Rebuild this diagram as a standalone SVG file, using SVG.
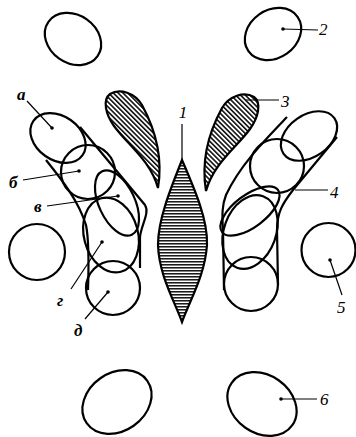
<svg xmlns="http://www.w3.org/2000/svg" width="356" height="437" viewBox="0 0 356 437">
<style>
.o{fill:none;stroke:#000;stroke-width:2.2}
.l{fill:none;stroke:#000;stroke-width:1.2}
.d{fill:#000}
.t{font-family:"Liberation Serif",serif;font-style:italic;font-size:17px;fill:#000}
.b{font-weight:bold}
</style>
<defs>
<pattern id="hd" width="3.4" height="3.4" patternUnits="userSpaceOnUse" patternTransform="rotate(-45)"><rect width="3.4" height="3.4" fill="#fff"/><line x1="0.8" y1="0" x2="0.8" y2="3.4" stroke="#000" stroke-width="1.5"/></pattern>
<pattern id="hh" width="3" height="3" patternUnits="userSpaceOnUse"><rect width="3" height="3" fill="#fff"/><line x1="0" y1="0.8" x2="3" y2="0.8" stroke="#000" stroke-width="1.4"/></pattern>
</defs>
<g id="e-top-left"><ellipse class="o" cx="73" cy="39" rx="30" ry="24" transform="rotate(35 73 39)"/></g>
<g id="e-top-right"><ellipse class="o" cx="273" cy="34" rx="30" ry="24" transform="rotate(-35 273 34)"/><circle class="d" cx="283" cy="29" r="1.8"/></g>
<g id="e-bottom-left"><ellipse class="o" cx="117" cy="402" rx="37" ry="29" transform="rotate(-35 117 402)"/></g>
<g id="e-bottom-right"><ellipse class="o" cx="262" cy="404" rx="37" ry="29" transform="rotate(35 262 404)"/><circle class="d" cx="281" cy="399" r="1.8"/></g>
<g id="c-left"><circle class="o" cx="37" cy="252" r="28"/></g>
<g id="c-right"><circle class="o" cx="328.5" cy="250" r="27"/><circle class="d" cx="330" cy="260" r="1.8"/></g>
<g id="spindle"><path class="o" fill="url(#hh)" style="fill:url(#hh)" d="M182,160 C195,190 208,220 207,245 C205,275 190,300 182,322 C174,300 159,275 158,245 C158,220 170,190 182,160 Z"/></g>
<g id="hatch-left"><path class="o" style="fill:url(#hd)" d="M158,188 C161,170 161,140 142,105 C135,93 120,88 110,94 C102,100 106,115 114,126 C128,145 150,160 158,188 Z"/></g>
<g id="hatch-right"><path class="o" style="fill:url(#hd)" d="M206,191 C203,173 203,143 222,108 C229,96 244,91 254,97 C262,103 258,118 250,129 C236,148 214,163 206,191 Z"/></g>
<g id="group-left">
<path class="o" d="M80,127 L145,205 C150,213 141,225 140,237 L140,268"/>
<path class="o" d="M46,160 C62,180 78,200 86,225 C89,240 89,260 88,290"/>
<ellipse class="o" cx="58" cy="138" rx="30" ry="22" transform="rotate(35 58 138)"/>
<circle class="o" cx="88" cy="172" r="27"/>
<ellipse class="o" cx="117" cy="203" rx="35" ry="18" transform="rotate(65 117 203)"/>
<ellipse class="o" cx="111" cy="235" rx="27" ry="38" transform="rotate(-15 111 235)"/>
<circle class="o" cx="113" cy="288" r="27"/>
<circle class="d" cx="52" cy="128" r="1.8"/><circle class="d" cx="79" cy="171" r="1.8"/><circle class="d" cx="118" cy="196" r="1.8"/><circle class="d" cx="102" cy="242" r="1.8"/><circle class="d" cx="108" cy="292" r="1.8"/>
</g>
<g id="group-right">
<path class="o" d="M337,137 L293,190 C283,203 277,212 277,230 L278,285"/>
<path class="o" d="M287,117 C265,140 240,165 226,195 C222,205 222,215 223,230 L224,290"/>
<ellipse class="o" cx="309" cy="136" rx="31" ry="21" transform="rotate(-35 309 136)"/>
<circle class="o" cx="277" cy="166" r="27"/>
<ellipse class="o" cx="250" cy="211" rx="35" ry="16" transform="rotate(-37 250 211)"/>
<ellipse class="o" cx="250" cy="232" rx="26" ry="38" transform="rotate(20 250 232)"/>
<circle class="o" cx="251" cy="284" r="27"/>
</g>
<g id="connectors">
<line class="l" x1="27" y1="101" x2="52" y2="128"/>
<line class="l" x1="23" y1="180" x2="79" y2="171"/>
<line class="l" x1="47" y1="206" x2="118" y2="196"/>
<line class="l" x1="71" y1="289" x2="102" y2="242"/>
<line class="l" x1="85" y1="319" x2="108" y2="292"/>
<line class="l" x1="182" y1="124" x2="182" y2="160"/>
<line class="l" x1="283" y1="29" x2="318" y2="30"/>
<line class="l" x1="246" y1="100" x2="279" y2="100"/>
<line class="l" x1="295" y1="190" x2="328" y2="190"/>
<line class="l" x1="330" y1="260" x2="342" y2="295"/>
<line class="l" x1="281" y1="399" x2="317" y2="399"/>
</g>
<g id="labels">
<text class="t b" x="17" y="100">а</text>
<text class="t b" x="9" y="188">б</text>
<text class="t b" x="34" y="212">в</text>
<text class="t b" x="57" y="306">г</text>
<text class="t b" x="74" y="336">д</text>
<text class="t" x="183" y="118" text-anchor="middle">1</text>
<text class="t" x="319" y="35">2</text>
<text class="t" x="281" y="107">3</text>
<text class="t" x="330" y="198">4</text>
<text class="t" x="337" y="313">5</text>
<text class="t" x="320" y="405">6</text>
</g>
</svg>
